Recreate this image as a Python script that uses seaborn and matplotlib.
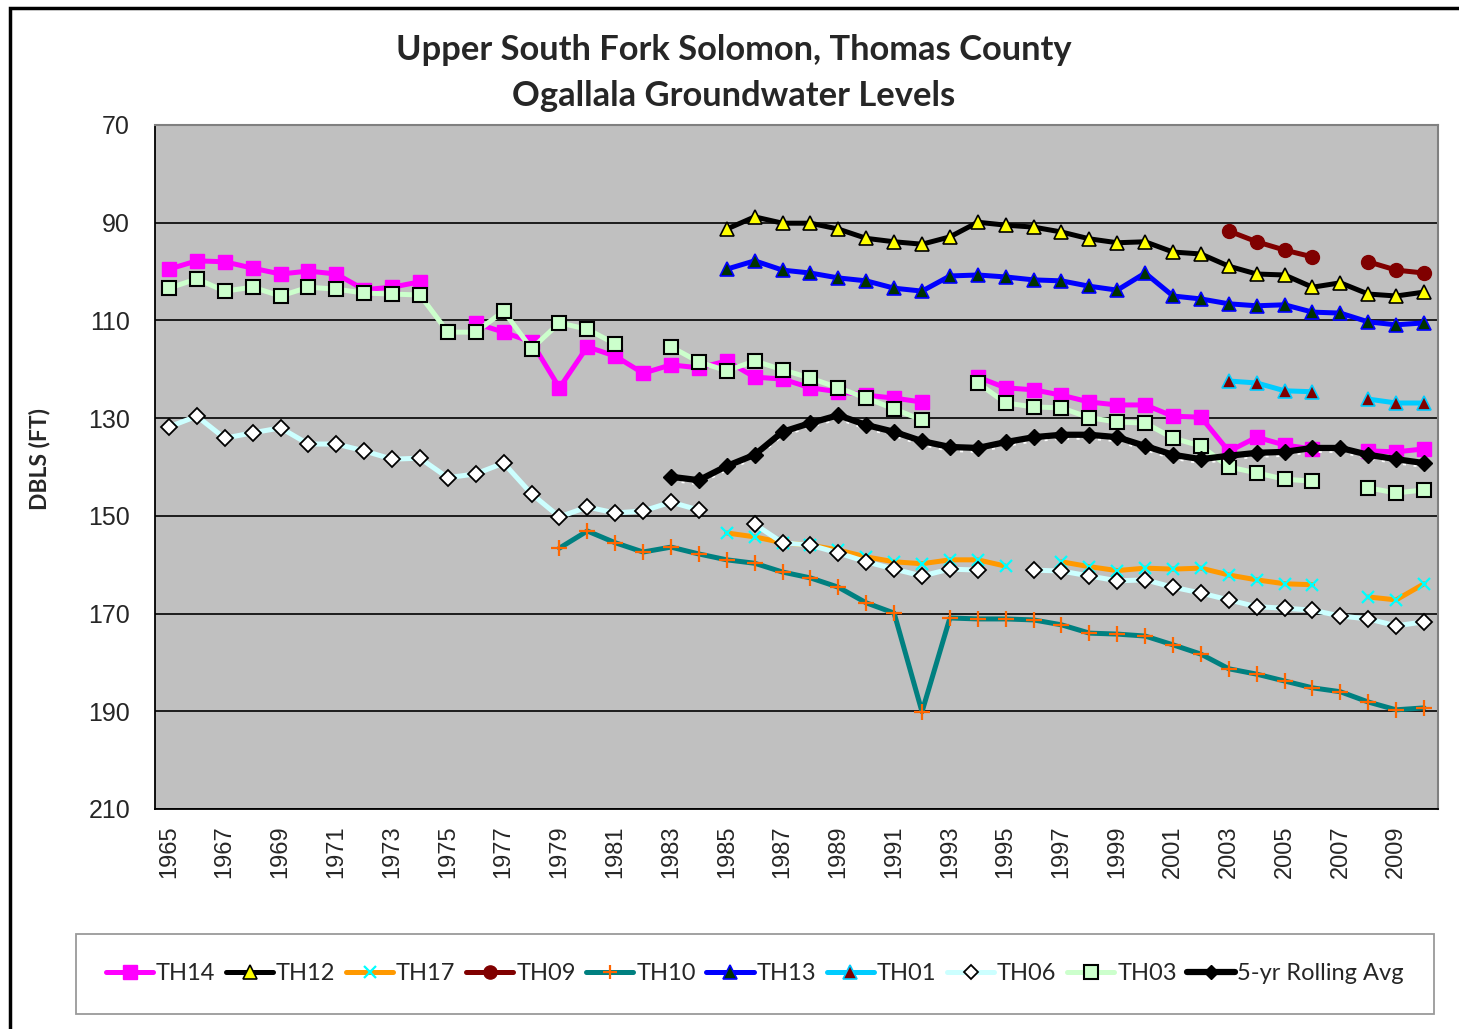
import numpy as np
import pandas as pd
import matplotlib
matplotlib.use("Agg")
import matplotlib.pyplot as plt
import matplotlib.transforms as mtransforms
from matplotlib.lines import Line2D
from matplotlib.patches import Rectangle
import seaborn as sns

nan = np.nan
years = list(range(1965, 2011))

TH14 = [99.5, 97.8, 98.0, 99.3, 100.5, 99.9, 100.5, 103.7, 103.2, 102.1,
        nan, 110.6, 112.4, 114.4, 123.8, 115.4, 117.3, 120.8, 119.1, 119.7,
        118.3, 121.6, 122.0, 123.8, 124.6, 125.3, 125.9, 126.7, nan, 121.6,
        123.8, 124.2, 125.3, 126.7, 127.3, 127.3, 129.6, 129.8, 136.8, 133.9,
        135.5, 136.3, nan, 136.7, 136.9, 136.3]
TH12 = [nan] * 20 + [91.3, 88.8, 90.1, 90.1, 91.3, 93.2, 93.9, 94.4, 92.9, 89.9,
                     90.5, 90.9, 91.9, 93.3, 94.1, 93.9, 96.0, 96.4, 98.9, 100.5,
                     100.7, 103.2, 102.3, 104.6, 105.0, 104.2]
TH17 = [nan] * 20 + [153.5, 154.3, 155.5, 156.0, 157.0, 158.4, 159.4, 159.8, 159.0, 159.0,
                     160.3, nan, 159.4, 160.4, 161.2, 160.7, 160.9, 160.7, 162.1, 163.1,
                     163.9, 164.1, nan, 166.6, 167.2, 163.9]
TH09 = [nan] * 38 + [91.7, 93.9, 95.6, 97.0, nan, 98.0, 99.7, 100.3]
TH10 = [nan] * 14 + [156.6, 153.1, 155.5, 157.4, 156.4, 157.8,
                     159.0, 159.7, 161.5, 162.7, 164.6, 167.8, 169.9, 190.1, 170.9, 171.1,
                     171.1, 171.3, 172.3, 174.0, 174.2, 174.6, 176.4, 178.3, 181.3, 182.4,
                     183.8, 185.2, 186.0, 188.1, 189.7, 189.3]
TH13 = [nan] * 20 + [99.5, 97.8, 99.7, 100.3, 101.3, 101.9, 103.4, 104.0, 100.9, 100.7,
                     101.1, 101.7, 101.9, 103.0, 103.8, 100.3, 105.0, 105.6, 106.6, 107.0,
                     106.8, 108.3, 108.5, 110.3, 110.9, 110.5]
TH01 = [nan] * 38 + [122.4, 122.8, 124.4, 124.6, nan, 126.1, 126.9, 126.9]
TH06 = [131.8, 129.6, 134.1, 133.0, 132.0, 135.3, 135.3, 136.7, 138.4, 138.2,
        142.2, 141.4, 139.2, 145.5, 150.2, 148.2, 149.4, 149.0, 147.2, 148.8,
        nan, 151.7, 155.5, 156.0, 157.6, 159.4, 160.9, 162.3, 160.9, 161.1,
        nan, 161.1, 161.3, 162.3, 163.3, 163.1, 164.6, 165.8, 167.2, 168.6,
        168.9, 169.3, 170.5, 171.1, 172.5, 171.7]
TH03 = [103.4, 101.5, 104.0, 103.2, 105.0, 103.2, 103.6, 104.4, 104.6, 104.8,
        112.4, 112.4, 108.1, 115.8, 110.5, 111.8, 114.8, nan, 115.4, 118.5,
        120.3, 118.3, 120.1, 121.8, 123.8, 125.9, 128.1, 130.4, nan, 122.8,
        126.9, 127.7, 127.9, 129.9, 130.8, 131.0, 134.1, 135.7, 140.0, 141.2,
        142.5, 142.9, nan, 144.3, 145.3, 144.7]
ROLL = [nan] * 18 + [142.0, 142.7,
                     139.8, 137.5, 132.8, 131.0, 129.4, 131.4, 132.8, 134.7, 135.9, 136.1,
                     134.9, 133.9, 133.4, 133.4, 133.9, 135.7, 137.5, 138.4, 137.7, 137.1,
                     136.9, 136.1, 136.1, 137.5, 138.4, 139.2]

series_names = ["TH14", "TH12", "TH17", "TH09", "TH10", "TH13", "TH01", "TH06", "TH03",
                "5-yr Rolling Avg"]
series_values = [TH14, TH12, TH17, TH09, TH10, TH13, TH01, TH06, TH03, ROLL]

styles = {
    "TH14": dict(color="#FF00FF", lw=3.6, marker="s", ms=10, mfc="#FF00FF", mec="#FF00FF", mew=1),
    "TH12": dict(color="#000000", lw=3.6, marker="^", ms=10, mfc="#FFFF00", mec="#000000", mew=1.2),
    "TH17": dict(color="#FF9900", lw=3.6, marker="x", ms=9, mfc="#00FFFF", mec="#00FFFF", mew=1.6),
    "TH09": dict(color="#800000", lw=3.6, marker="o", ms=10, mfc="#800000", mec="#800000", mew=1),
    "TH10": dict(color="#008080", lw=3.6, marker="+", ms=11, mfc="#FF6600", mec="#FF6600", mew=1.6),
    "TH13": dict(color="#0000FF", lw=3.6, marker="^", ms=10, mfc="#003300", mec="#0000FF", mew=1.2),
    "TH01": dict(color="#00CCFF", lw=3.6, marker="^", ms=10, mfc="#800000", mec="#00CCFF", mew=1.2),
    "TH06": dict(color="#CCFFFF", lw=3.6, marker="D", ms=8, mfc="#FFFFFF", mec="#000000", mew=1.3),
    "TH03": dict(color="#CCFFCC", lw=3.6, marker="s", ms=10, mfc="#CCFFCC", mec="#000000", mew=1.5),
    "5-yr Rolling Avg": dict(color="#000000", lw=4.5, marker="D", ms=8, mfc="#000000", mec="#000000", mew=1),
}

sns.set_theme(style="white")
plt.rcParams["font.family"] = ["Liberation Sans", "DejaVu Sans"]

fig = plt.figure(figsize=(14.59, 10.29), dpi=100)
W, H = 1459, 1029
ax = fig.add_axes([155 / W, 1 - 809 / H, (1438 - 155) / W, (809 - 125) / H])
ax.set_facecolor("#C0C0C0")

for z, (name, vals) in enumerate(zip(series_names, series_values)):
    df = pd.DataFrame({"year": years, "value": vals})
    df["seg"] = df["value"].isna().cumsum()
    df = df.dropna()
    st = styles[name]
    if name == "5-yr Rolling Avg":
        off = mtransforms.offset_copy(ax.transData, fig=fig, x=0, y=-2.5, units="points")
        for _, g in df.groupby("seg"):
            ax.plot(g["year"], g["value"], color="white", lw=2.2, ls=(0, (1, 2.5)),
                    transform=off, zorder=2 + z, solid_capstyle="butt")
    sns.lineplot(data=df, x="year", y="value", units="seg", estimator=None, ax=ax,
                 color=st["color"], lw=st["lw"], marker=st["marker"], ms=st["ms"],
                 markerfacecolor=st["mfc"], markeredgecolor=st["mec"], markeredgewidth=st["mew"],
                 legend=False, zorder=3 + z, sort=False)

ax.set_xlim(1964.5, 2010.5)
ax.set_ylim(210, 70)
ax.set_yticks(range(70, 211, 20))
ax.yaxis.grid(True, color="#000000", lw=1.2)
ax.xaxis.grid(False)
ax.set_axisbelow(True)
ax.set_xticks(range(1965, 2010, 2))
ax.set_xticklabels([str(y) for y in range(1965, 2010, 2)], rotation=90, fontsize=17)
ax.set_xticks(np.arange(1964.5, 2011, 1), minor=True)
ax.tick_params(axis="x", which="major", length=0, pad=12)
ax.tick_params(axis="x", which="minor", length=8, width=1.2, color="#000000", direction="out")
ax.tick_params(axis="y", which="major", length=8, width=1.2, color="#000000", direction="out",
               labelsize=18, pad=10)
for s in ["left", "bottom"]:
    ax.spines[s].set_color("#000000")
    ax.spines[s].set_linewidth(1.3)
for s in ["top", "right"]:
    ax.spines[s].set_color("#808080")
    ax.spines[s].set_linewidth(1.5)
ax.set_xlabel("")
ax.set_ylabel("DBLS (FT)", fontsize=16.5, fontweight="bold", family=["Lato", "DejaVu Sans"])
ax.yaxis.set_label_coords(-105 / (1438 - 155), 0.512)

fig.text(734 / W, 1 - 50 / H, "Upper South Fork Solomon, Thomas County", ha="center", va="center",
         fontsize=24.8, fontweight="bold", family=["Lato", "DejaVu Sans"])
fig.text(734 / W, 1 - 96 / H, "Ogallala Groundwater Levels", ha="center", va="center",
         fontsize=24.8, fontweight="bold", family=["Lato", "DejaVu Sans"])

handles = []
for name in series_names:
    st = styles[name]
    handles.append(Line2D([], [], color=st["color"], lw=st["lw"], marker=st["marker"], ms=st["ms"] * 0.95,
                          markerfacecolor=st["mfc"], markeredgecolor=st["mec"], markeredgewidth=st["mew"]))
leg = fig.legend(handles, series_names, loc="center", bbox_to_anchor=(755 / W, 1 - 974 / H), ncol=10,
                 frameon=True, fancybox=False, edgecolor="#808080",
                 handlelength=2.0, handletextpad=0.12, columnspacing=0.45, borderpad=1.25,
                 borderaxespad=0,
                 prop={"family": ["Lato", "DejaVu Sans"], "size": 17})
leg.get_frame().set_linewidth(1.3)

fig.patches.append(Rectangle((10 / W, -0.05), 1.2, 1 + 0.05 - 8 / H, transform=fig.transFigure,
                             fill=False, edgecolor="#000000", lw=2.5, zorder=10))

fig.savefig("out.png", dpi=100, facecolor="white")
